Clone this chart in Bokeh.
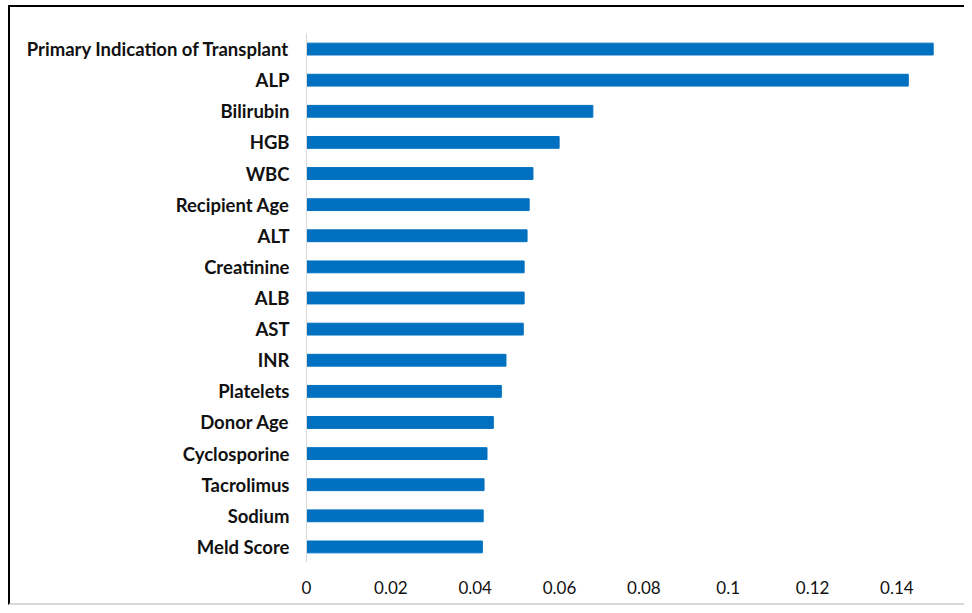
from bokeh.plotting import figure
from bokeh.models import FactorRange, Range1d, FixedTicker
from bokeh.embed import file_html
from bokeh.resources import INLINE

features = ["Primary Indication of Transplant", "ALP", "Bilirubin", "HGB", "WBC",
            "Recipient Age", "ALT", "Creatinine", "ALB", "AST", "INR", "Platelets",
            "Donor Age", "Cyclosporine", "Tacrolimus", "Sodium", "Meld Score"]
importance = [0.1486, 0.1427, 0.0679, 0.0599, 0.0537, 0.0528, 0.0523, 0.0516,
              0.0516, 0.0514, 0.0473, 0.0462, 0.0443, 0.0428, 0.0421, 0.0419, 0.0417]
tick_values = [0, 0.02, 0.04, 0.06, 0.08, 0.10, 0.12, 0.14]
tick_labels = ["0", "0.02", "0.04", "0.06", "0.08", "0.1", "0.12", "0.14"]

p = figure(width=956, height=600, output_backend="svg", toolbar_location=None,
           y_range=FactorRange(factors=features[::-1], range_padding=0),
           x_range=Range1d(0, 0.1565),
           min_border_left=296, min_border_top=26, min_border_bottom=45, min_border_right=0)
p.styles = {"border-left": "2px solid black", "border-top": "2px solid black",
            "border-bottom": "2px solid #d9d9d9", "margin-left": "8px", "margin-top": "5px"}

p.hbar(y=features, right=importance, left=0, height=0.38, color="#0070C0")

p.outline_line_color = None
p.grid.grid_line_color = None

p.yaxis.axis_line_color = "#d9d9d9"
p.yaxis.major_tick_line_color = None
p.yaxis.minor_tick_line_color = None
p.yaxis.major_label_standoff = 11
p.yaxis.major_label_text_font = "Lato"
p.yaxis.major_label_text_font_style = "bold"
p.yaxis.major_label_text_font_size = "18.5px"
p.yaxis.major_label_text_color = "#111111"

p.xaxis.ticker = FixedTicker(ticks=tick_values)
p.xaxis.major_label_overrides = {v: l for v, l in zip(tick_values, tick_labels)}
p.xaxis.axis_line_color = None
p.xaxis.major_tick_line_color = None
p.xaxis.minor_tick_line_color = None
p.xaxis.major_label_standoff = 12
p.xaxis.major_label_text_font = "Lato"
p.xaxis.major_label_text_font_size = "17px"
p.xaxis.major_label_text_color = "#111111"

open("out.html", "w").write(file_html(p, INLINE))
